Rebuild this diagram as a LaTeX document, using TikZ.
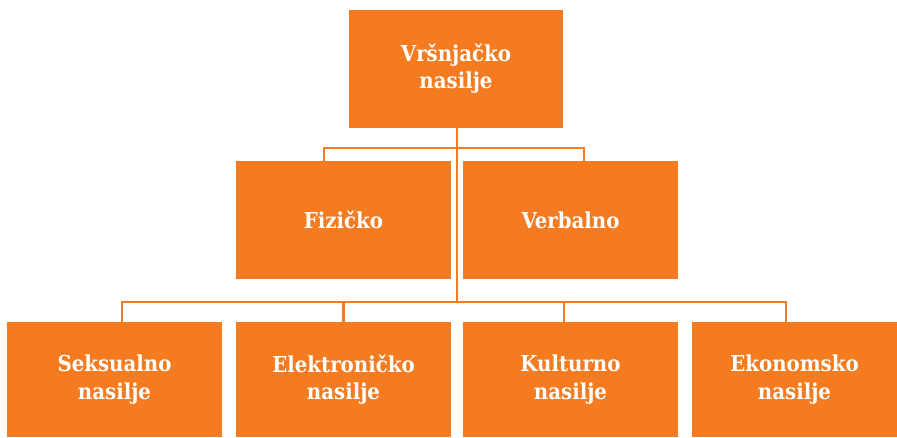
\documentclass[tikz,border=0pt]{standalone}
\usepackage{fontspec}
\setmainfont{DejaVu Serif Condensed}
\usepackage{xcolor}
\definecolor{narancasta}{RGB}{244,123,32}

\begin{document}
\begin{tikzpicture}[x=0.02cm,y=-0.02cm,
    kutija/.style={fill=narancasta, text=white, font=\bfseries\fontsize{12.5}{15.5}\selectfont,
      align=center, inner sep=0pt, minimum width=4.3cm},
    veza/.style={draw=narancasta, line width=1.6pt}]
            \useasboundingbox (0,0) rectangle (897,437);
            \node[kutija, minimum height=2.36cm](top) at (456,69){Vršnjačko\\nasilje};
            \node[kutija, minimum height=2.36cm](fiz) at (343.5,220){Fizičko};
            \node[kutija, minimum height=2.36cm](ver) at (570.5,220){Verbalno};
            \node[kutija, minimum height=2.3cm](sek) at (114.5,379.5){Seksualno\\nasilje};
            \node[kutija, minimum height=2.3cm](ele) at (343.5,379.5){Elektroničko\\nasilje};
            \node[kutija, minimum height=2.3cm](kul) at (570.5,379.5){Kulturno\\nasilje};
            \node[kutija, minimum height=2.3cm, minimum width=4.1cm](eko) at (794.5,379.5){Ekonomsko\\nasilje};
            \coordinate (b1) at (457,148);
            \coordinate (b2) at (457,302);
            \draw[veza] (top.south -| b1) -- (b2);
            \draw[veza] ([xshift=-0.39cm]fiz.north) |- (b1) -| ([xshift=0.27cm]ver.north);
            \draw[veza] ([xshift=0.15cm]sek.north) |- (b2) -| ([xshift=-0.17cm]eko.north);
            \draw[veza] (ele.north) -- (ele.north |- b2);
            \draw[veza] ([xshift=-0.13cm]kul.north) -- ([xshift=-0.13cm]kul.north |- b2);
\end{tikzpicture}
\end{document}
